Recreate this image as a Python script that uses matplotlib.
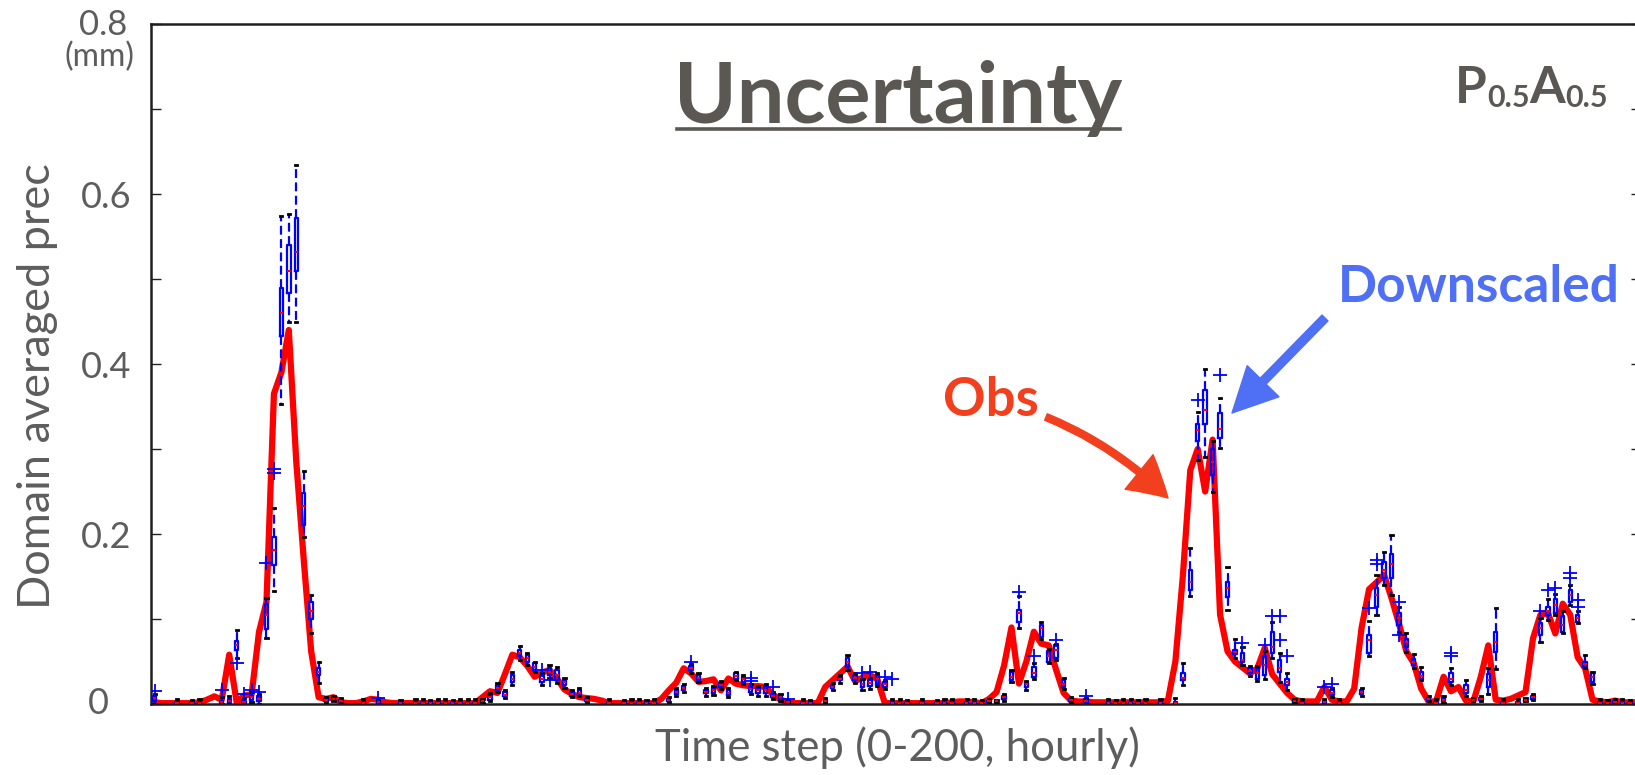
import matplotlib
matplotlib.use("Agg")
import matplotlib.pyplot as plt
from matplotlib.lines import Line2D
import numpy as np

plt.rcParams['font.family'] = ['Lato', 'DejaVu Sans']

W, H = 1635, 775

# observed domain averaged precipitation, hourly steps 1..200
steps = np.arange(1, 201)
obs = [
    0.002, 0.001, 0.001, 0.001, 0.001, 0.001, 0.002, 0.005, 0.009, 0.005,
    0.058, 0.002, 0.010, 0.011, 0.085, 0.120, 0.365, 0.390, 0.440, 0.285,
    0.170, 0.062, 0.008, 0.006, 0.008, 0.002, 0.001, 0.001, 0.003, 0.006,
    0.005, 0.002, 0.001, 0.001, 0.001, 0.001, 0.001, 0.001, 0.001, 0.001,
    0.001, 0.001, 0.001, 0.001, 0.008, 0.015, 0.013, 0.035, 0.058, 0.055,
    0.045, 0.032, 0.037, 0.040, 0.030, 0.017, 0.012, 0.008, 0.007, 0.006,
    0.004, 0.001, 0.001, 0.001, 0.001, 0.001, 0.001, 0.001, 0.006, 0.016,
    0.025, 0.042, 0.036, 0.026, 0.027, 0.029, 0.016, 0.030, 0.024, 0.022,
    0.021, 0.021, 0.020, 0.011, 0.005, 0.002, 0.001, 0.001, 0.001, 0.001,
    0.020, 0.028, 0.036, 0.044, 0.027, 0.031, 0.034, 0.029, 0.001, 0.001,
    0.001, 0.001, 0.001, 0.001, 0.001, 0.001, 0.001, 0.002, 0.003, 0.003,
    0.002, 0.001, 0.006, 0.014, 0.045, 0.090, 0.024, 0.050, 0.085, 0.071,
    0.069, 0.040, 0.013, 0.004, 0.003, 0.003, 0.002, 0.002, 0.002, 0.002,
    0.002, 0.002, 0.002, 0.002, 0.002, 0.002, 0.004, 0.050, 0.150, 0.275,
    0.300, 0.250, 0.311, 0.105, 0.062, 0.050, 0.043, 0.036, 0.042, 0.066,
    0.035, 0.024, 0.013, 0.005, 0.003, 0.003, 0.003, 0.020, 0.005, 0.003,
    0.003, 0.018, 0.090, 0.135, 0.143, 0.152, 0.125, 0.095, 0.062, 0.048,
    0.018, 0.003, 0.003, 0.032, 0.015, 0.020, 0.004, 0.003, 0.032, 0.069,
    0.005, 0.004, 0.006, 0.010, 0.014, 0.077, 0.105, 0.107, 0.083, 0.118,
    0.105, 0.055, 0.042, 0.005, 0.003, 0.002, 0.004, 0.002, 0.002, 0.002,
]

# downscaled ensemble box statistics (steps where a box is visible)
box_step = [
    1, 4, 6, 7, 10, 11, 12, 13, 14, 15,
    16, 17, 18, 19, 20, 21, 22, 23, 24, 25,
    26, 29, 31, 34, 36, 37, 38, 39, 40, 41,
    42, 43, 44, 45, 46, 47, 48, 49, 50, 51,
    52, 53, 54, 55, 56, 57, 58, 59, 62, 64,
    65, 66, 67, 68, 70, 71, 72, 73, 74, 75,
    76, 77, 78, 79, 80, 81, 82, 83, 84, 85,
    86, 88, 89, 91, 92, 93, 94, 95, 96, 97,
    98, 99, 100, 101, 102, 104, 106, 107, 108, 110,
    111, 112, 113, 114, 115, 116, 117, 118, 119, 120,
    121, 122, 123, 124, 126, 129, 130, 131, 132, 133,
    134, 136, 138, 139, 140, 141, 142, 143, 144, 145,
    146, 147, 148, 149, 150, 151, 152, 153, 154, 155,
    158, 159, 160, 163, 164, 165, 166, 167, 168, 169,
    170, 171, 172, 173, 174, 175, 177, 178, 179, 180,
    181, 182, 184, 185, 186, 187, 188, 189, 190, 191,
    192, 193, 194, 195, 196, 197, 198, 199,
]
box_lo = [
    0.0, 0.0, 0.0, 0.0, 0.0, 0.0, 0.054, 0.0, 0.002, 0.0,
    0.078, 0.133, 0.353, 0.449, 0.449, 0.196, 0.083, 0.025, 0.002, 0.003,
    0.001, 0.0, 0.0, 0.0, 0.0, 0.0, 0.0, 0.0, 0.0, 0.0,
    0.0, 0.0, 0.0, 0.001, 0.003, 0.0145, 0.007, 0.022, 0.052, 0.046,
    0.038, 0.022, 0.031, 0.025, 0.019, 0.008, 0.009, 0.002, 0.0, 0.0,
    0.0, 0.0, 0.0, 0.0, 0.002, 0.009, 0.014, 0.037, 0.026, 0.010,
    0.011, 0.018, 0.008, 0.028, 0.023, 0.012, 0.010, 0.010, 0.006, 0.003,
    0.0, 0.0, 0.0, 0.001, 0.016, 0.025, 0.040, 0.025, 0.017, 0.018,
    0.021, 0.018, 0.0, 0.0, 0.0, 0.0, 0.0, 0.0, 0.0, 0.0,
    0.0, 0.0, 0.001, 0.001, 0.004, 0.026, 0.089, 0.017, 0.029, 0.077,
    0.048, 0.052, 0.018, 0.002, 0.0, 0.0, 0.0, 0.0, 0.0, 0.0,
    0.0, 0.0, 0.0, 0.022, 0.127, 0.287, 0.291, 0.250, 0.301, 0.111,
    0.054, 0.046, 0.033, 0.027, 0.030, 0.054, 0.026, 0.0165, 0.001, 0.0,
    0.0, 0.008, 0.0, 0.010, 0.056, 0.105, 0.140, 0.128, 0.085, 0.061,
    0.042, 0.028, 0.003, 0.0, 0.001, 0.022, 0.009, 0.003, 0.004, 0.012,
    0.041, 0.0, 0.0, 0.003, 0.005, 0.073, 0.099, 0.105, 0.083, 0.116,
    0.095, 0.042, 0.024, 0.0, 0.0, 0.0, 0.0, 0.0,
]
box_q1 = [
    0.004, 0.0, 0.0, 0.0, 0.001, 0.002, 0.063, 0.001, 0.005, 0.004,
    0.088, 0.164, 0.433, 0.484, 0.510, 0.211, 0.100, 0.034, 0.004, 0.005,
    0.003, 0.0, 0.001, 0.0, 0.0, 0.0, 0.0, 0.0, 0.0, 0.0,
    0.0, 0.0, 0.0, 0.002, 0.005, 0.0165, 0.009, 0.026, 0.056, 0.050,
    0.040, 0.026, 0.034, 0.028, 0.022, 0.010, 0.011, 0.004, 0.0, 0.0,
    0.0, 0.0, 0.0, 0.0, 0.004, 0.012, 0.0165, 0.040, 0.028, 0.0126,
    0.0133, 0.020, 0.0106, 0.030, 0.026, 0.0145, 0.0126, 0.013, 0.008, 0.005,
    0.001, 0.0, 0.0, 0.002, 0.0184, 0.0278, 0.044, 0.028, 0.020, 0.021,
    0.024, 0.0204, 0.0, 0.0, 0.0, 0.0, 0.0, 0.0, 0.0, 0.0,
    0.0, 0.0, 0.002, 0.002, 0.006, 0.028, 0.097, 0.020, 0.032, 0.079,
    0.050, 0.054, 0.020, 0.003, 0.002, 0.0, 0.0, 0.0, 0.0, 0.0,
    0.0, 0.0, 0.0, 0.028, 0.134, 0.309, 0.330, 0.270, 0.3126, 0.126,
    0.059, 0.050, 0.037, 0.030, 0.034, 0.060, 0.038, 0.022, 0.002, 0.0,
    0.001, 0.0106, 0.0, 0.012, 0.060, 0.114, 0.148, 0.148, 0.093, 0.067,
    0.046, 0.030, 0.004, 0.0, 0.003, 0.026, 0.0126, 0.004, 0.005, 0.020,
    0.0615, 0.0, 0.0, 0.004, 0.006, 0.081, 0.105, 0.107, 0.085, 0.120,
    0.097, 0.044, 0.026, 0.0, 0.0, 0.0, 0.0, 0.0,
]
box_med = [
    0.007, 0.001, 0.001, 0.001, 0.002, 0.004, 0.070, 0.002, 0.008, 0.006,
    0.105, 0.181, 0.460, 0.510, 0.532, 0.233, 0.110, 0.038, 0.005, 0.006,
    0.004, 0.001, 0.002, 0.001, 0.001, 0.001, 0.001, 0.001, 0.001, 0.001,
    0.001, 0.001, 0.001, 0.003, 0.008, 0.019, 0.011, 0.030, 0.060, 0.054,
    0.044, 0.030, 0.038, 0.034, 0.026, 0.012, 0.013, 0.005, 0.001, 0.001,
    0.001, 0.001, 0.001, 0.001, 0.005, 0.014, 0.019, 0.042, 0.031, 0.0145,
    0.016, 0.0225, 0.013, 0.033, 0.029, 0.018, 0.016, 0.017, 0.010, 0.008,
    0.002, 0.001, 0.001, 0.004, 0.020, 0.030, 0.049, 0.031, 0.024, 0.025,
    0.029, 0.023, 0.001, 0.001, 0.001, 0.001, 0.001, 0.001, 0.001, 0.001,
    0.001, 0.001, 0.003, 0.003, 0.008, 0.032, 0.107, 0.023, 0.037, 0.089,
    0.056, 0.064, 0.024, 0.005, 0.004, 0.001, 0.001, 0.001, 0.001, 0.001,
    0.001, 0.001, 0.001, 0.031, 0.144, 0.322, 0.346, 0.285, 0.324, 0.136,
    0.061, 0.052, 0.039, 0.037, 0.046, 0.067, 0.042, 0.026, 0.004, 0.001,
    0.002, 0.013, 0.001, 0.014, 0.075, 0.128, 0.158, 0.165, 0.101, 0.073,
    0.049, 0.0335, 0.006, 0.001, 0.005, 0.030, 0.0165, 0.005, 0.006, 0.028,
    0.073, 0.001, 0.001, 0.005, 0.008, 0.089, 0.109, 0.117, 0.093, 0.128,
    0.101, 0.0467, 0.0314, 0.001, 0.001, 0.002, 0.001, 0.001,
]
box_q3 = [
    0.010, 0.002, 0.002, 0.002, 0.004, 0.006, 0.074, 0.004, 0.010, 0.009,
    0.118, 0.196, 0.490, 0.540, 0.572, 0.248, 0.120, 0.042, 0.006, 0.007,
    0.005, 0.002, 0.003, 0.002, 0.002, 0.002, 0.002, 0.002, 0.002, 0.002,
    0.002, 0.002, 0.002, 0.004, 0.011, 0.022, 0.014, 0.034, 0.064, 0.058,
    0.048, 0.034, 0.042, 0.040, 0.028, 0.014, 0.0165, 0.006, 0.002, 0.002,
    0.002, 0.002, 0.002, 0.002, 0.006, 0.0165, 0.021, 0.045, 0.034, 0.0165,
    0.0186, 0.025, 0.0165, 0.036, 0.032, 0.021, 0.0186, 0.021, 0.012, 0.0106,
    0.003, 0.002, 0.002, 0.005, 0.022, 0.0318, 0.0537, 0.034, 0.028, 0.028,
    0.034, 0.026, 0.002, 0.002, 0.002, 0.002, 0.002, 0.002, 0.002, 0.002,
    0.002, 0.002, 0.004, 0.004, 0.010, 0.038, 0.111, 0.025, 0.044, 0.093,
    0.062, 0.069, 0.028, 0.006, 0.006, 0.002, 0.002, 0.002, 0.002, 0.002,
    0.002, 0.002, 0.002, 0.036, 0.158, 0.330, 0.369, 0.300, 0.342, 0.144,
    0.064, 0.060, 0.042, 0.042, 0.056, 0.085, 0.052, 0.030, 0.005, 0.002,
    0.003, 0.0165, 0.002, 0.017, 0.081, 0.136, 0.167, 0.177, 0.107, 0.077,
    0.053, 0.038, 0.007, 0.002, 0.007, 0.036, 0.022, 0.006, 0.007, 0.035,
    0.085, 0.002, 0.002, 0.006, 0.010, 0.095, 0.1145, 0.124, 0.103, 0.134,
    0.105, 0.050, 0.036, 0.002, 0.002, 0.003, 0.002, 0.002,
]
box_hi = [
    0.012, 0.006, 0.005, 0.006, 0.008, 0.010, 0.087, 0.007, 0.014, 0.012,
    0.125, 0.231, 0.574, 0.576, 0.634, 0.274, 0.128, 0.050, 0.008, 0.009,
    0.007, 0.006, 0.005, 0.005, 0.006, 0.006, 0.005, 0.006, 0.006, 0.005,
    0.006, 0.006, 0.006, 0.006, 0.013, 0.025, 0.017, 0.038, 0.068, 0.060,
    0.050, 0.036, 0.046, 0.044, 0.031, 0.016, 0.019, 0.008, 0.006, 0.005,
    0.006, 0.006, 0.005, 0.006, 0.008, 0.019, 0.024, 0.047, 0.036, 0.019,
    0.021, 0.027, 0.019, 0.038, 0.034, 0.024, 0.021, 0.023, 0.014, 0.012,
    0.004, 0.006, 0.005, 0.007, 0.025, 0.034, 0.058, 0.037, 0.030, 0.031,
    0.036, 0.028, 0.006, 0.006, 0.005, 0.006, 0.005, 0.006, 0.006, 0.006,
    0.006, 0.005, 0.006, 0.005, 0.012, 0.040, 0.127, 0.027, 0.048, 0.097,
    0.065, 0.071, 0.031, 0.008, 0.007, 0.006, 0.005, 0.006, 0.006, 0.005,
    0.006, 0.006, 0.007, 0.048, 0.184, 0.344, 0.394, 0.310, 0.360, 0.161,
    0.077, 0.0667, 0.045, 0.045, 0.062, 0.097, 0.060, 0.036, 0.006, 0.006,
    0.006, 0.019, 0.006, 0.019, 0.098, 0.152, 0.179, 0.199, 0.114, 0.083,
    0.059, 0.044, 0.009, 0.006, 0.009, 0.042, 0.028, 0.007, 0.009, 0.042,
    0.1126, 0.006, 0.006, 0.007, 0.012, 0.101, 0.124, 0.130, 0.109, 0.140,
    0.110, 0.058, 0.038, 0.006, 0.005, 0.006, 0.006, 0.005,
]

# outlier members of the ensemble
flier_step = [1, 10, 12, 13, 14, 15, 16, 17, 17, 31,
              53, 54, 73, 81, 81, 84, 86, 96, 97, 99,
              100, 117, 119, 122, 126, 141, 144, 147, 150, 151,
              152, 152, 153, 158, 159, 164, 165, 165, 168, 168,
              175, 175, 187, 188, 189, 191, 191, 192, 192]
flier_val = [0.015, 0.017, 0.048, 0.012, 0.016, 0.0145, 0.166, 0.272, 0.277, 0.0075,
             0.040, 0.028, 0.050, 0.031, 0.027, 0.0204, 0.006, 0.036, 0.038, 0.032,
             0.030, 0.132, 0.056, 0.075, 0.010, 0.358, 0.387, 0.072, 0.069, 0.103,
             0.075, 0.103, 0.056, 0.020, 0.0235, 0.113, 0.169, 0.165, 0.120, 0.081,
             0.056, 0.060, 0.109, 0.134, 0.136, 0.148, 0.154, 0.122, 0.1145]

ytick_vals = [0, 0.2, 0.4, 0.6, 0.8]
ytick_labels = ["", "0.2", "0.4", "0.6", ""]
yminor_vals = [0.1, 0.3, 0.5, 0.7]

GRAY = '#5b5854'
LABEL = '#5d5d5d'
OBS_RED = '#f2401f'
DS_BLUE = '#4f70f5'


def fx(x):
    return x / W


def fy(y):
    return 1 - y / H


fig = plt.figure(figsize=(W / 100, H / 100), dpi=100)
ax = fig.add_axes([fx(151), fy(704), 1490 / W, 680 / H])

stats = []
for i, s in enumerate(box_step):
    fl = [v for fs, v in zip(flier_step, flier_val) if fs == s]
    stats.append(dict(med=box_med[i], q1=box_q1[i], q3=box_q3[i],
                      whislo=box_lo[i], whishi=box_hi[i], fliers=fl))

ax.plot(steps, obs, color='#ff0000', lw=4.5, solid_joinstyle='round', zorder=2)

ax.bxp(stats, positions=box_step, widths=0.45, capwidths=0.3,
       manage_ticks=False, zorder=3,
       boxprops=dict(color='#0000ff', lw=1.6),
       whiskerprops=dict(color='#0000ff', lw=1.6, ls=(0, (4, 2))),
       capprops=dict(color='black', lw=2.0),
       medianprops=dict(color='#ff0000', lw=1.5),
       flierprops=dict(marker='+', markeredgecolor='#0000ff', markersize=10,
                       markeredgewidth=1.3, linestyle='none'))

ax.set_xlim(0.5, 200.5)
ax.set_ylim(0, 0.8)
ax.set_xticks([])
ax.set_yticks(ytick_vals)
ax.set_yticklabels(ytick_labels)
ax.set_yticks(yminor_vals, minor=True)
ax.tick_params(axis='y', which='both', direction='in', length=7.5, width=1.0,
               color='#222222', left=True, right=True, labelsize=26,
               labelcolor=LABEL, pad=14)
for sp in ax.spines.values():
    sp.set_linewidth(1.8)
    sp.set_color('#1e1e1e')

# y labels that sit apart from the tick labels
fig.text(fx(98), fy(704), "0", fontsize=26, color=LABEL, ha='center', va='center')
fig.text(fx(127), fy(25), "0.8", fontsize=25, color=LABEL, ha='right', va='center')
fig.text(fx(134), fy(57), "(mm)", fontsize=23, color=LABEL, ha='right', va='center')

fig.text(fx(38), fy(386), "Domain averaged prec", fontsize=32.5, color=LABEL,
         rotation=90, ha='center', va='center')
fig.text(fx(897), fy(748), "Time step (0-200, hourly)", fontsize=31.5, color=LABEL,
         ha='center', va='center')

# title
fig.text(fx(898), fy(123), "Uncertainty", fontsize=61, fontweight='bold',
         color=GRAY, ha='center', va='baseline')
fig.add_artist(Line2D([fx(677), fx(1120)], [fy(129), fy(129)],
                      transform=fig.transFigure, lw=2.6, color=GRAY))

# P0.5A0.5 tag
tp = fig.text(fx(1455), fy(103), "P", fontsize=37, fontweight='bold',
              color=GRAY, ha='left', va='baseline')
t1 = ax.annotate("0.5", xy=(1, 0), xycoords=tp, fontsize=22, fontweight='bold',
                 color=GRAY, ha='left', va='bottom', annotation_clip=False)
t2 = ax.annotate("A", xy=(1, 0), xycoords=t1, fontsize=37, fontweight='bold',
                 color=GRAY, ha='left', va='bottom', annotation_clip=False)
ax.annotate("0.5", xy=(1, 0), xycoords=t2, fontsize=22, fontweight='bold',
            color=GRAY, ha='left', va='bottom', annotation_clip=False)

# annotations
fig.text(fx(1338), fy(302), "Downscaled", fontsize=37, fontweight='bold',
         color=DS_BLUE, ha='left', va='baseline')
fig.text(fx(943), fy(416), "Obs", fontsize=38, fontweight='bold',
         color=OBS_RED, ha='left', va='baseline')

ax.annotate('', xy=(1168, H - 498), xytext=(1046, H - 417),
            xycoords='figure pixels', textcoords='figure pixels',
            annotation_clip=False,
            arrowprops=dict(arrowstyle='simple,head_length=1.4,head_width=1.6,tail_width=0.25',
                            fc=OBS_RED, ec=OBS_RED, mutation_scale=20,
                            shrinkA=0, shrinkB=0, connectionstyle='arc3,rad=-0.1'))
ax.annotate('', xy=(1232, H - 413), xytext=(1325, H - 318),
            xycoords='figure pixels', textcoords='figure pixels',
            annotation_clip=False,
            arrowprops=dict(arrowstyle='simple,head_length=1.6,head_width=1.6,tail_width=0.3',
                            fc=DS_BLUE, ec=DS_BLUE, mutation_scale=20,
                            shrinkA=0, shrinkB=0))

fig.savefig('out.png', dpi=100)
